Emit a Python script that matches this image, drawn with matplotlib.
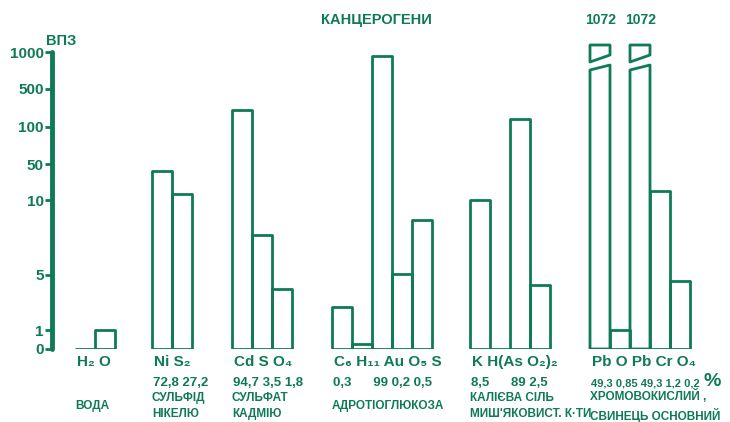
import numpy as np
import matplotlib.pyplot as plt
from matplotlib.patches import Polygon

plt.rcParams['font.family'] = ['Liberation Sans', 'DejaVu Sans']

GREEN = '#0e7a58'

# Y axis ticks (non-uniform scale as drawn)
tick_values = [0, 1, 5, 10, 50, 100, 500, 1000]
tick_labels = ['0', '1', '5', '10', '50', '100', '500', '1000']

# Compounds
names = ["ВОДА", "СУЛЬФІД\nНІКЕЛЮ", "СУЛЬФАТ\nКАДМІЮ", "АДРОТІОГЛЮКОЗА",
         "КАЛІЄВА СІЛЬ\nМИШ'ЯКОВИСТ. К·ТИ", "ХРОМОВОКИСЛИЙ ,\nСВИНЕЦЬ ОСНОВНИЙ"]
elements = [["H₂", "O"],
            ["Ni", "S₂"],
            ["Cd", "S", "O₄"],
            ["C₆", "H₁₁", "Au", "O₅", "S"],
            ["K", "H(As", "O₂)₂"],
            ["Pb", "O", "Pb", "Cr", "O₄"]]
percents = [[],
            ["72,8", "27,2"],
            ["94,7", "3,5", "1,8"],
            ["0,3", "", "99", "0,2", "0,5"],
            ["8,5", "", "89", "2,5"],
            ["49,3", "0,85", "49,3", "1,2", "0,2"]]
vpz = [[0, 1.0],
       [42, 16.5],
       [280, 7.7, 4.0],
       [2.7, 0.26, 950, 5.1, 8.7],
       [10, 0, 185, 4.3],
       [1072, 1.0, 1072, 20, 4.6]]

# layout: left edge of each group in bar-widths from the axis
group_start = [1.15, 5.0, 9.0, 14.0, 20.9, 26.9]
pct_size = [9.5, 9.5, 9.5, 9.5, 9.5, 8]

# scale: value -> drawn height (px above baseline)
scale_vals = [0, 1, 5, 10, 50, 100, 500, 1000, 2000]
scale_pos = [0, 19, 74, 149, 185, 222, 260, 297, 371]


def fwd(v):
    return np.interp(v, scale_vals, scale_pos)


def inv(p):
    return np.interp(p, scale_pos, scale_vals)


fig = plt.figure(figsize=(7.3, 4.22), dpi=100)
ax = fig.add_axes([52 / 730, 73 / 422, 668 / 730, 310 / 422])
ax.set_yscale('function', functions=(fwd, inv))
ax.set_xlim(0, 668 / 20)
ax.set_ylim(0, inv(310))

for g in range(len(vpz)):
    for i, v in enumerate(vpz[g]):
        x0 = group_start[g] + i
        if v > 1000:
            # broken bar with cap
            lower = Polygon([(x0, 0), (x0, inv(279)), (x0 + 1, inv(284)), (x0 + 1, 0)],
                            closed=True, fill=False, edgecolor=GREEN, lw=2.0, joinstyle='round')
            cap = Polygon([(x0, inv(287)), (x0, inv(304)), (x0 + 1, inv(304)), (x0 + 1, inv(294))],
                          closed=True, fill=False, edgecolor=GREEN, lw=2.0, joinstyle='round')
            ax.add_patch(lower)
            ax.add_patch(cap)
            ax.text(x0 + 0.55, inv(322), str(int(v)), color=GREEN, fontsize=10,
                    fontweight='bold', ha='center', va='bottom', clip_on=False)
        else:
            ax.bar(x0, v, width=1, align='edge', fill=False, edgecolor=GREEN,
                   lw=2.0, joinstyle='round')
    formula = " ".join(elements[g])
    pct = " ".join(p if p else "    " for p in percents[g])
    ax.annotate(formula, (group_start[g] + 0.1, 60), xycoords=('data', 'figure pixels'),
                ha='left', va='center', color=GREEN, fontsize=11, fontweight='bold')
    ax.annotate(pct, (group_start[g] + 0.05, 39), xycoords=('data', 'figure pixels'),
                ha='left', va='center', color=GREEN, fontsize=pct_size[g],
                fontweight='bold')
    ax.annotate(names[g], (group_start[g], 16), xycoords=('data', 'figure pixels'),
                ha='left', va='center', color=GREEN, fontsize=8.5, fontweight='bold',
                linespacing=1.45)

ax.annotate('%', (712, 41), xycoords='figure pixels', ha='center', va='center',
            color=GREEN, fontsize=14, fontweight='bold')
fig.text(376 / 730, 1 - 20 / 422, 'КАНЦЕРОГЕНИ', ha='center', va='center',
         color=GREEN, fontsize=10.5, fontweight='bold')
fig.text(61 / 730, 1 - 41 / 422, 'ВПЗ', ha='center', va='center',
         color=GREEN, fontsize=10.5, fontweight='bold')

for s in ['top', 'right', 'bottom']:
    ax.spines[s].set_visible(False)
ax.spines['left'].set_color(GREEN)
ax.spines['left'].set_linewidth(3.5)
ax.spines['left'].set_bounds(0, 1000)
ax.spines['left'].set_capstyle('round')
ax.set_yticks(tick_values)
ax.set_yticklabels(tick_labels, fontsize=11, fontweight='bold', color=GREEN)
ax.tick_params(axis='y', colors=GREEN, length=5, width=2, pad=1)
ax.set_xticks([])

fig.savefig('out.png', dpi=100)
